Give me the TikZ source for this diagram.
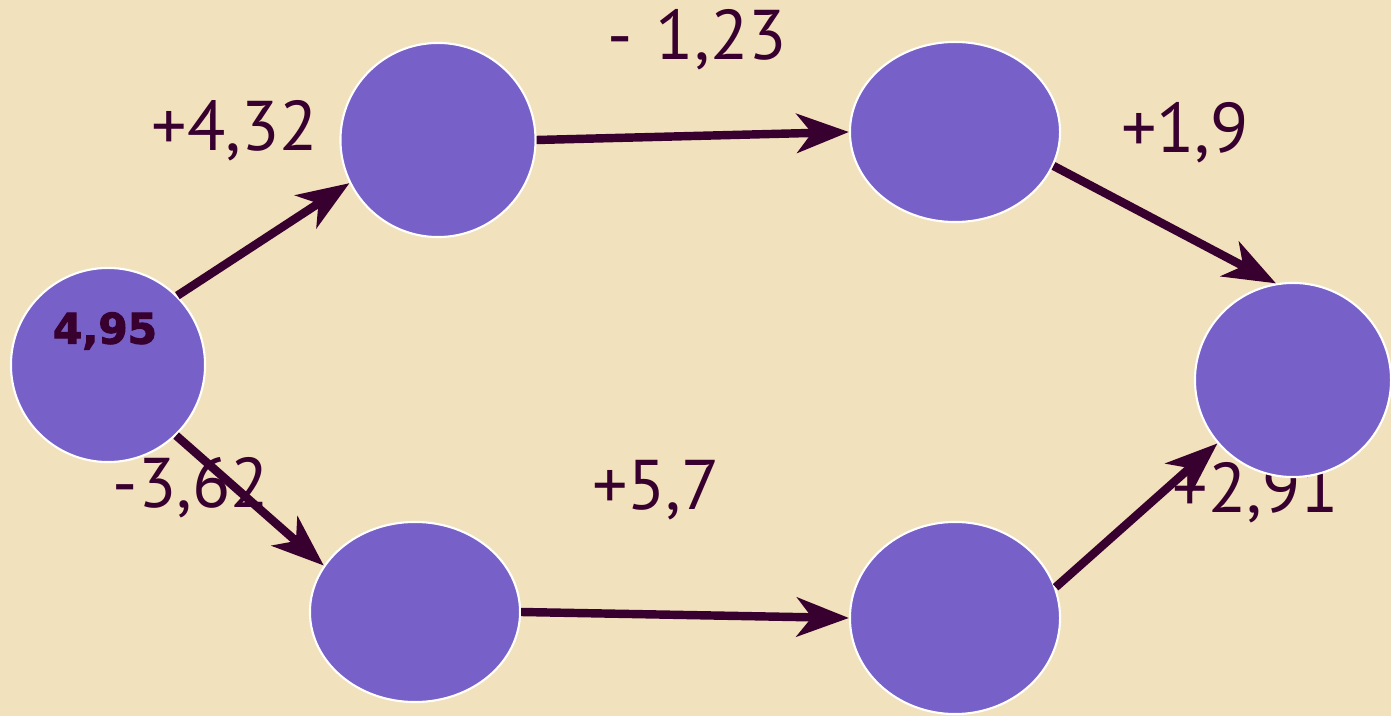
\documentclass[tikz,border=0pt]{standalone}
\usepackage{fontspec}
\setmainfont{PT Sans}
\newfontfamily\heavyfont{DejaVu Sans}[UprightFont=* Bold, FakeBold=2.5]
\usetikzlibrary{shapes.geometric,arrows.meta}
\definecolor{parchment}{HTML}{F2E1BD}
\definecolor{blob}{HTML}{7760C8}
\definecolor{ink}{HTML}{38002F}
\tikzset{state/.style = {ellipse, fill=blob, draw=white, line width=.6pt, inner sep=0pt},
  gain/.style = {text=ink, font=\fontsize{20}{22}\selectfont},
  link/.style = {draw=ink, line width=2.4pt, -{Stealth[length=5.2mm, width=3.9mm, inset=1.5mm]}}}

\begin{document}
\begin{tikzpicture}[x=.01cm, y=-.01cm]
      \fill[parchment] (0,0) rectangle (1391,716);
      \useasboundingbox (0,0) rectangle (1391,716);
      \node[gain] (g1) at (235,131) {+4,32};
      \node[gain] (g2) at (697,40) {-\,\,1,23};
      \node[gain] (g3) at (1185,133) {+1,9};
      \node[gain] (g4) at (191,488) {-3,62};
      \node[gain] (g5) at (656,490) {+5,7};
      \node[gain] (g6) at (1256,493) {+2,91};
      \node[state, minimum width=1.94cm, minimum height=1.94cm] (start) at (108,365) {};
      \node[state, minimum width=1.95cm, minimum height=1.94cm] (up1) at (438,140) {};
      \node[state, minimum width=2.1cm, minimum height=1.8cm] (up2) at (955,132) {};
      \node[state, minimum width=1.96cm, minimum height=1.94cm] (goal) at (1293,380) {};
      \node[state, minimum width=2.1cm, minimum height=1.8cm] (down1) at (415,612) {};
      \node[state, minimum width=2.1cm, minimum height=1.92cm] (down2) at (955,618) {};
      \node[text=ink, font=\heavyfont\fontsize{12}{14}\selectfont] (val) at (105,331) {4,95};
      \draw[link] (start.45) -- (up1.206);
      \draw[link] (up1.0) -- (up2.180);
      \draw[link] (up2.-19) -- (goal.100);
      \draw[link] (start.-46) -- (down1.153);
      \draw[link] (down1.0) -- (down2.180);
      \draw[link] (down2.17) -- (goal.220);
    \end{tikzpicture}
\end{document}
